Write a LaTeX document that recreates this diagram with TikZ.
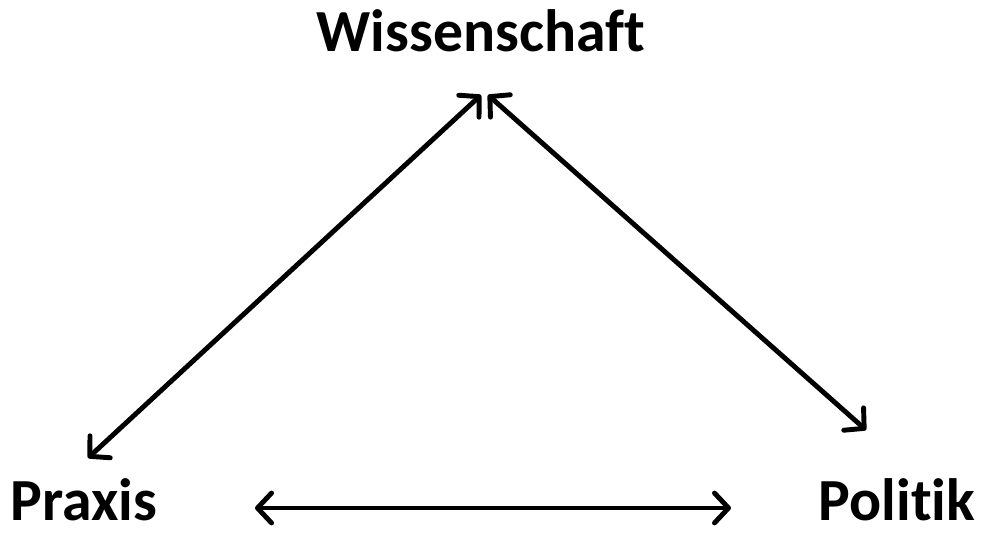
\documentclass[tikz,border=0pt]{standalone}
\usepackage{fontspec}
\setmainfont{Carlito}[Ligatures=NoCommon]
\usetikzlibrary{arrows.meta}

\begin{document}
\begin{tikzpicture}[x=0.02cm,y=-0.02cm,
  lbl/.style={anchor=base,inner sep=0pt,font=\bfseries\fontsize{34}{40}\selectfont},
  link/.style={{Straight Barb[round,length=8pt,width=17pt]}-{Straight Barb[round,length=8pt,width=17pt]},line width=2.8pt,line cap=round}]
\useasboundingbox (0,0) rectangle (982,533);

\node[lbl] (W) at (481,52) {Wissenschaft};
\node[lbl] (P) at (84,520) {Praxis};
\node[lbl] (L) at (897,520) {Politik};

\coordinate (Wl) at (481,95);
\coordinate (Wr) at (488,95);
\coordinate (Pt) at (88,458);
\coordinate (Pr) at (255,508);
\coordinate (Lt) at (866,430);
\coordinate (Ll) at (731,508);

\draw[link] (Pt) -- (Wl);
\draw[link] (Wr) -- (Lt);
\draw[link] (Pr) -- (Ll);
\end{tikzpicture}
\end{document}
